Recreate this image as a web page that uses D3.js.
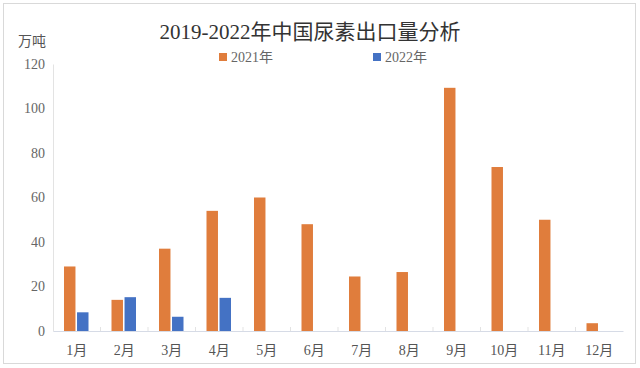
<!DOCTYPE html>
<html>
<head>
<meta charset="utf-8">
<script src="https://cdn.jsdelivr.net/npm/d3@7"></script>
<style>
body { margin: 0; background: #fff; }
</style>
</head>
<body>
<div id="chart"></div>
<script>
var months = ["1月","2月","3月","4月","5月","6月","7月","8月","9月","10月","11月","12月"];
var series_names = ["2021年", "2022年"];
var values_2021 = [29, 14, 37, 54, 60, 48, 24.5, 26.5, 109.3, 73.7, 50, 3.5];
var values_2022 = [8.4, 15.2, 6.4, 14.9, null, null, null, null, null, null, null, null];
var y_ticks = [0, 20, 40, 60, 80, 100, 120];

var width = 640, height = 368;
var colors = ["#E07D3C", "#4472C4"];
var serif = "'Liberation Serif', 'Noto Sans CJK SC', serif";

var svg = d3.select("#chart")
    .append("svg")
    .attr("width", width)
    .attr("height", height);

// frame
svg.append("rect")
    .attr("x", 3.5).attr("y", 3.5)
    .attr("width", 632).attr("height", 360)
    .attr("fill", "#fff")
    .attr("stroke", "#d9d9d9");

var plot_left = 53, plot_right = 623, plot_top = 64, plot_bottom = 331;

var x_scale = d3.scaleBand()
    .domain(months)
    .range([plot_left, plot_right]);

var y_scale = d3.scaleLinear()
    .domain([0, 120])
    .range([plot_bottom, plot_top]);

// axes
var y_axis = d3.axisLeft(y_scale)
    .tickValues(y_ticks)
    .tickSize(0)
    .tickPadding(8);

var gy = svg.append("g")
    .attr("transform", "translate(" + plot_left + ",0)")
    .call(y_axis);
gy.select(".domain").attr("stroke", "#e3e3e3");
gy.selectAll("text")
    .attr("font-family", serif)
    .attr("font-size", 14)
    .attr("fill", "#666");

var x_axis = d3.axisBottom(x_scale)
    .tickSize(0)
    .tickPadding(14);

var gx = svg.append("g")
    .attr("transform", "translate(0," + plot_bottom + ")")
    .call(x_axis);
gx.select(".domain").attr("stroke", "#d6dbe6");
gx.selectAll("text")
    .attr("font-family", serif)
    .attr("font-size", 14)
    .attr("fill", "#555");

// small band separators
svg.append("g").selectAll("line")
    .data(months.slice(1))
    .enter()
    .append("line")
    .attr("x1", function(d) { return x_scale(d); })
    .attr("x2", function(d) { return x_scale(d); })
    .attr("y1", plot_bottom - 4)
    .attr("y2", plot_bottom)
    .attr("stroke", "#e3e3e3");

// bars
var inner = d3.scaleBand()
    .domain([0, 1])
    .range([11, x_scale.bandwidth() - 12])
    .paddingInner(0.12);

var bar_data = [];
months.forEach(function(m, i) {
    bar_data.push({ m: m, s: 0, v: values_2021[i] });
    if (values_2022[i] != null) bar_data.push({ m: m, s: 1, v: values_2022[i] });
});

svg.append("g").selectAll("rect")
    .data(bar_data)
    .enter()
    .append("rect")
    .attr("x", function(d) { return x_scale(d.m) + inner(d.s); })
    .attr("y", function(d) { return y_scale(d.v); })
    .attr("width", inner.bandwidth())
    .attr("height", function(d) { return plot_bottom - y_scale(d.v); })
    .attr("fill", function(d) { return colors[d.s]; });

// title
svg.append("text")
    .text("2019-2022年中国尿素出口量分析")
    .attr("x", 310)
    .attr("y", 39)
    .attr("text-anchor", "middle")
    .attr("font-family", serif)
    .attr("font-size", 21)
    .attr("fill", "#333");

// unit
svg.append("text")
    .text("万吨")
    .attr("x", 32)
    .attr("y", 46)
    .attr("text-anchor", "middle")
    .attr("font-family", serif)
    .attr("font-size", 14)
    .attr("fill", "#555");

// legend
var legend_x = [219, 373];
var lg = svg.append("g").selectAll("g")
    .data(series_names)
    .enter()
    .append("g")
    .attr("transform", function(d, i) { return "translate(" + legend_x[i] + ",53)"; });
lg.append("rect")
    .attr("width", 8).attr("height", 8)
    .attr("fill", function(d, i) { return colors[i]; });
lg.append("text")
    .text(function(d) { return d; })
    .attr("x", 12)
    .attr("y", 9)
    .attr("font-family", serif)
    .attr("font-size", 14)
    .attr("fill", "#666");
</script>
</body>
</html>
